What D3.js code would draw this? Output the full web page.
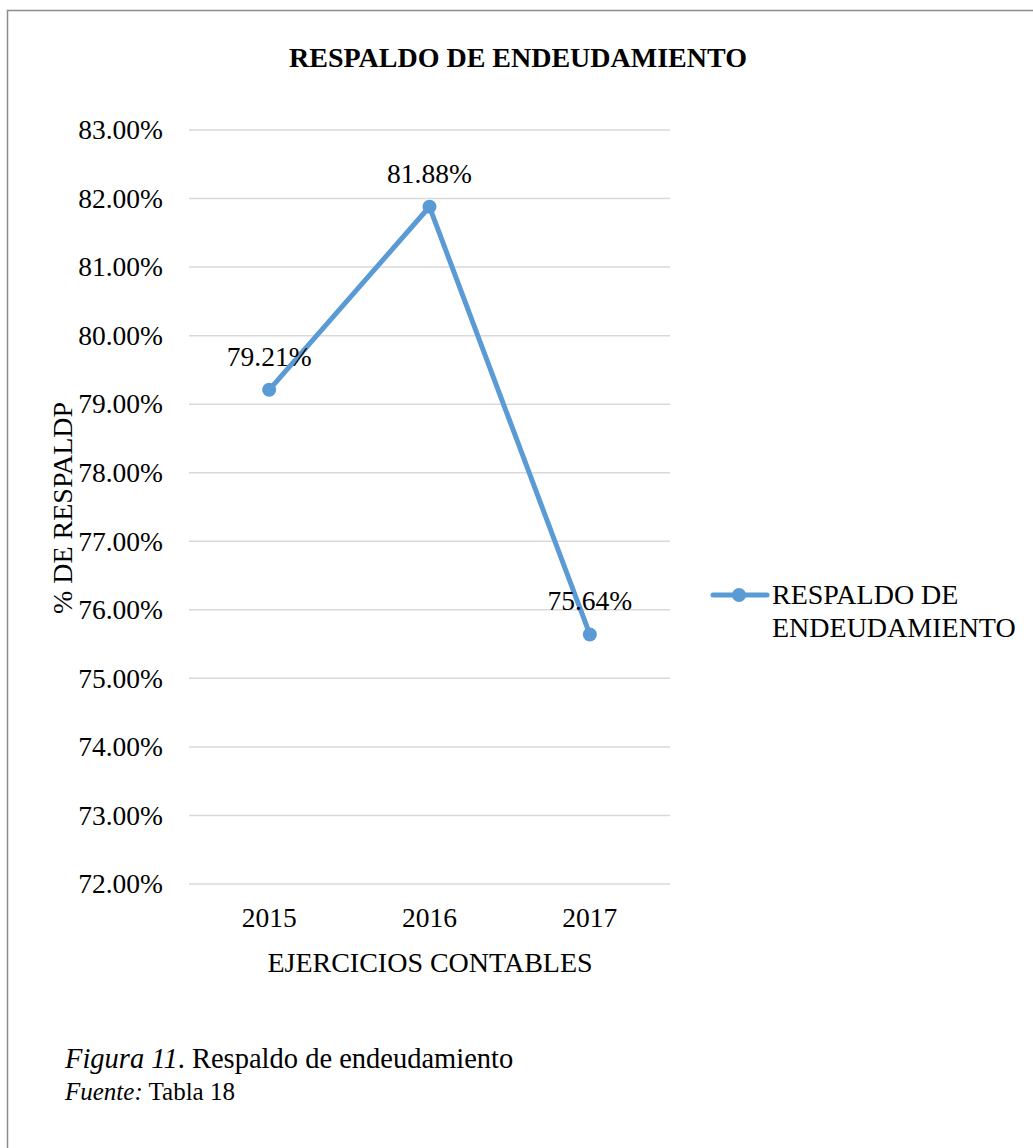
<!DOCTYPE html>
<html><head><meta charset="utf-8">
<script src="https://cdn.jsdelivr.net/npm/d3@7"></script>
<style>body{margin:0;background:#fff}svg{display:block}text{font-family:"Liberation Serif","Times New Roman",serif;fill:#000}</style>
</head><body>
<script>
const categories = ["2015", "2016", "2017"];
const values = [79.21, 81.88, 75.64];
const valueLabels = ["79.21%", "81.88%", "75.64%"];
const yTicks = [72, 73, 74, 75, 76, 77, 78, 79, 80, 81, 82, 83];
const seriesName = ["RESPALDO DE", "ENDEUDAMIENTO"];
const title = "RESPALDO DE ENDEUDAMIENTO";
const yTitle = "% DE RESPALDP";
const xTitle = "EJERCICIOS CONTABLES";

const W = 1033, H = 1148;
const FS = 27.5;
const svg = d3.select("body").append("svg").attr("width", W).attr("height", H);
svg.append("rect").attr("x", 7.5).attr("y", 10.5).attr("width", W + 10).attr("height", H + 10)
  .attr("fill", "none").attr("stroke", "#8c8c8c").attr("stroke-width", 1.5);

const x = d3.scaleBand().domain(categories).range([189, 670]);
const y = d3.scaleLinear().domain([72, 83]).range([884, 130]);
const color = "#5B9BD5";

svg.append("text").attr("x", 518).attr("y", 67).attr("text-anchor", "middle")
  .attr("font-size", 28).attr("font-weight", "bold").text(title);

const grid = svg.append("g");
grid.selectAll("line").data(yTicks).join("line")
  .attr("x1", 189).attr("x2", 670).attr("y1", d => y(d)).attr("y2", d => y(d))
  .attr("stroke", "#d9d9d9").attr("stroke-width", 1.5);

const yAxis = svg.append("g").attr("transform", "translate(189,0)")
  .call(d3.axisLeft(y).tickValues(yTicks).tickSize(0).tickPadding(26).tickFormat(d => d3.format(".2f")(d) + "%"));
yAxis.select(".domain").remove();
yAxis.selectAll("text").attr("font-size", FS);

const xAxis = svg.append("g").attr("transform", "translate(0,884)")
  .call(d3.axisBottom(x).tickSize(0).tickPadding(0));
xAxis.select(".domain").remove();
xAxis.selectAll("text").attr("font-size", FS).attr("dy", null).attr("y", 43);

svg.append("text").attr("transform", "translate(72,508) rotate(-90)").attr("text-anchor", "middle")
  .attr("font-size", 28).text(yTitle);
svg.append("text").attr("x", 430).attr("y", 972).attr("text-anchor", "middle")
  .attr("font-size", 28).text(xTitle);

const line = d3.line().x((d, i) => x(categories[i]) + x.bandwidth() / 2).y(d => y(d));
svg.append("path").datum(values).attr("d", line).attr("fill", "none")
  .attr("stroke", color).attr("stroke-width", 5).attr("stroke-linejoin", "round").attr("stroke-linecap", "round");
svg.selectAll("circle.pt").data(values).join("circle").attr("class", "pt")
  .attr("cx", (d, i) => x(categories[i]) + x.bandwidth() / 2).attr("cy", d => y(d)).attr("r", 7).attr("fill", color);
svg.selectAll("text.lbl").data(values).join("text").attr("class", "lbl")
  .attr("x", (d, i) => x(categories[i]) + x.bandwidth() / 2).attr("y", d => y(d) - 24)
  .attr("text-anchor", "middle").attr("font-size", FS).text((d, i) => valueLabels[i]);

const lg = svg.append("g");
lg.append("line").attr("x1", 713).attr("x2", 767).attr("y1", 595).attr("y2", 595)
  .attr("stroke", color).attr("stroke-width", 5).attr("stroke-linecap", "round");
lg.append("circle").attr("cx", 739).attr("cy", 595).attr("r", 7).attr("fill", color);
lg.selectAll("text").data(seriesName).join("text").attr("x", 772).attr("y", (d, i) => 604 + i * 33)
  .attr("font-size", 28).text(d => d);

const cap = svg.append("text").attr("x", 65).attr("y", 1068).attr("font-size", 28.5);
cap.append("tspan").attr("font-style", "italic").text("Figura 11");
cap.append("tspan").text(". Respaldo de endeudamiento");
const cap2 = svg.append("text").attr("x", 65).attr("y", 1100).attr("font-size", 25);
cap2.append("tspan").attr("font-style", "italic").text("Fuente:");
cap2.append("tspan").text(" Tabla 18");
</script>
</body></html>
